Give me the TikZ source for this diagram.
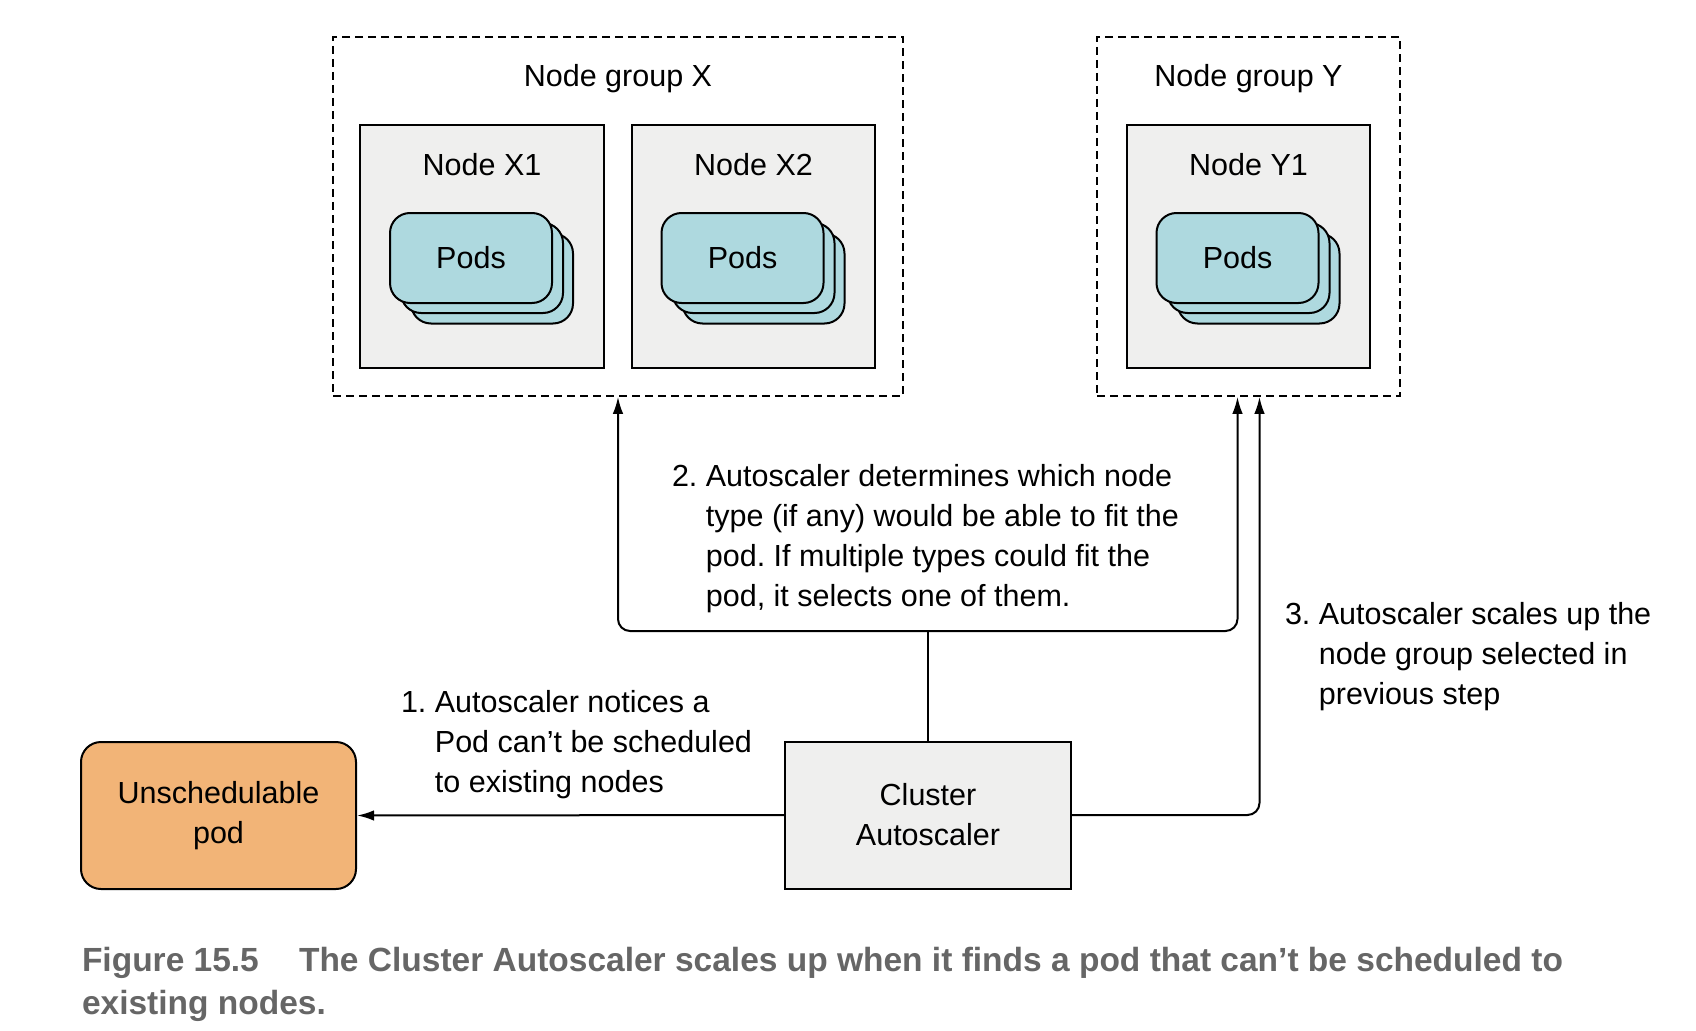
\documentclass[tikz,border=0pt]{standalone}
\usepackage{fontspec}
\setmainfont{Liberation Sans}
\usetikzlibrary{arrows.meta,positioning}
\definecolor{nodegray}{HTML}{EFEFEE}
\definecolor{podblue}{HTML}{AED9DF}
\definecolor{podorange}{HTML}{F2B477}
\definecolor{capgray}{HTML}{666666}
\frenchspacing
\newcommand*\podstack[2]{%
	\node[pod] (#1c) at ([xshift=10pt,yshift=-32pt]#2) {};
	\node[pod] (#1b) at ([xshift=0pt,yshift=-21.5pt]#2) {};
	\node[pod] (#1)  at ([xshift=-11pt,yshift=-11.5pt]#2) {Pods};}

\begin{document}
\begin{tikzpicture}[x=1pt,y=-1pt,line width=2pt,
		>={Latex[length=17pt,width=10.5pt]},
		font=\fontsize{30.5}{40}\selectfont]
		\tikzstyle{group}=[draw,dashed,dash pattern=on 8pt off 5pt,line width=1.6pt,
			inner sep=0pt]
		\tikzstyle{machine}=[draw,fill=nodegray,inner sep=0pt]
		\tikzstyle{pod}=[draw,fill=podblue,rounded corners=20pt,
			minimum width=162pt,minimum height=90pt,inner sep=0pt]
		\tikzstyle{note}=[align=left,anchor=base west,inner sep=0pt]
		
		\useasboundingbox (0,0) rectangle (1696,1030);
		
		% node groups
		\node[group,minimum width=570pt,minimum height=359pt]	(gx) at (618,216.5) {};
		\node[group,minimum width=303pt,minimum height=359pt]	(gy) at (1248.5,216.5) {};
		\node[below=27pt of gx.north,inner sep=0pt]		(gxl) {Node group X};
		\node[below=27pt of gy.north,inner sep=0pt]		(gyl) {Node group Y};
		
		% nodes
		\node[machine,minimum width=244pt,minimum height=243pt]	(x1) at (482,246.5) {};
		\node[machine,minimum width=243pt,minimum height=243pt]	(x2) at (753.5,246.5) {};
		\node[machine,minimum width=243pt,minimum height=243pt]	(y1) at (1248.5,246.5) {};
		\node[below=28pt of x1.north,inner sep=0pt]		(x1l) {Node X1};
		\node[below=28pt of x2.north,inner sep=0pt]		(x2l) {Node X2};
		\node[below=28pt of y1.north,inner sep=0pt]		(y1l) {Node Y1};
		
		% pods
		\podstack{px1}{x1.center}
		\podstack{px2}{x2.center}
		\podstack{py1}{y1.center}
		
		% autoscaler and pod
		\node[draw,fill=podorange,rounded corners=20pt,minimum width=275pt,
			minimum height=147pt,align=center,inner sep=0pt]	(up) at (218.5,815.5)
			{Unschedulable\\pod};
		\node[machine,minimum width=286pt,minimum height=147pt,align=center]
			(ca) at (928,815) {Cluster\\Autoscaler};
		\coordinate (split) at (ca.north |- 0,631);
		
		% connectors
		\draw[->] (ca.west) -- (up.east);
		\draw (ca.north) -- (split);
		\draw[->,rounded corners=12pt] (split) -| (gx.south);
		\draw[->,rounded corners=12pt] (split) -| ([xshift=-11pt]gy.south);
		\draw[->,rounded corners=12pt] (ca.east) -| ([xshift=11pt]gy.south);
		
		% notes
		\node[note] (n1) at (400,792) {1.~Autoscaler notices a\\
			\hphantom{1.~}Pod can’t be scheduled\\\hphantom{1.~}to existing nodes};
		\node[note] (n2) at (671,606) {2.~Autoscaler determines which node\\
			\hphantom{2.~}type (if any) would be able to fit the\\
			\hphantom{2.~}pod. If multiple types could fit the\\
			\hphantom{2.~}pod, it selects one of them.};
		\node[note] (n3) at (1284,704) {3.~Autoscaler scales up the\\
			\hphantom{3.~}node group selected in\\\hphantom{3.~}previous step};
		
		% caption
		\node[note,text=capgray,font=\bfseries\fontsize{33.5}{43}\selectfont]
			(cap) at (81,1014) {Figure 15.5\hspace{1.2em}The Cluster Autoscaler scales up
			when it finds a pod that can’t be scheduled to\\existing nodes.};
\end{tikzpicture}
\end{document}
